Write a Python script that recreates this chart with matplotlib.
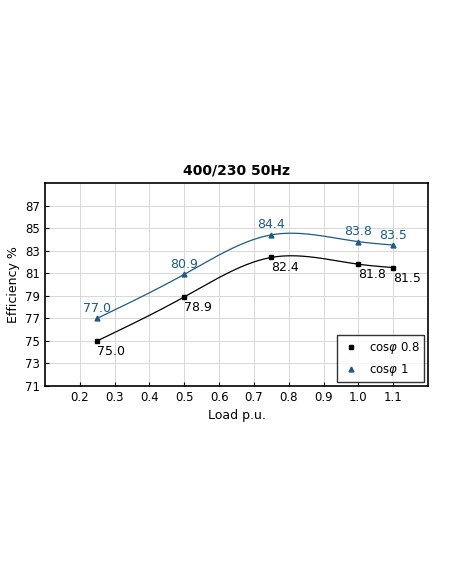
import numpy as np
import matplotlib
matplotlib.use("Agg")
import matplotlib.pyplot as plt

load = [0.25, 0.5, 0.75, 1.0, 1.1]
eff_08 = [75.0, 78.9, 82.4, 81.8, 81.5]
eff_1 = [77.0, 80.9, 84.4, 83.8, 83.5]
x_ticks = [0.2, 0.3, 0.4, 0.5, 0.6, 0.7, 0.8, 0.9, 1.0, 1.1]
y_ticks = [71, 73, 75, 77, 79, 81, 83, 85, 87]


def natural_spline(x, y, n=200):
    x = np.asarray(x, float)
    y = np.asarray(y, float)
    k = len(x)
    h = np.diff(x)
    a = np.zeros((k, k))
    b = np.zeros(k)
    a[0, 0] = a[-1, -1] = 1
    for i in range(1, k - 1):
        a[i, i - 1] = h[i - 1]
        a[i, i] = 2 * (h[i - 1] + h[i])
        a[i, i + 1] = h[i]
        b[i] = 6 * ((y[i + 1] - y[i]) / h[i] - (y[i] - y[i - 1]) / h[i - 1])
    m = np.linalg.solve(a, b)
    xs = np.linspace(x[0], x[-1], n)
    idx = np.clip(np.searchsorted(x, xs) - 1, 0, k - 2)
    t0 = x[idx + 1] - xs
    t1 = xs - x[idx]
    hi = h[idx]
    ys = (m[idx] * t0**3 + m[idx + 1] * t1**3) / (6 * hi) \
        + (y[idx] / hi - m[idx] * hi / 6) * t0 + (y[idx + 1] / hi - m[idx + 1] * hi / 6) * t1
    return xs, ys


blue = "#1f5a85"
fig = plt.figure(figsize=(4.52, 5.84), dpi=100)
ax = fig.add_axes([45 / 452, 1 - 386 / 584, 383 / 452, 203 / 584])

for vals, color, marker, label, dy, va in [
    (eff_08, "black", "s", r"cos$\varphi$ 0.8", -0.35, "top"),
    (eff_1, blue, "^", r"cos$\varphi$ 1", 0.3, "bottom"),
]:
    xs, ys = natural_spline(load, vals)
    ax.plot(xs, ys, color=color, lw=0.9)
    ax.plot(load, vals, linestyle="none", marker=marker, ms=3.5, color=color, label=label)
    for x, y in zip(load, vals):
        ax.text(x, y + dy, f"{y:.1f}", color=color, fontsize=9, ha="left" if va == "top" else "center", va=va)

ax.set_xlim(0.1, 1.2)
ax.set_ylim(71, 89)
ax.set_xticks(x_ticks)
ax.set_xticklabels([f"{t:.1f}" for t in x_ticks])
ax.set_yticks(y_ticks)
ax.tick_params(direction="in", labelsize=8.5, length=3)
ax.grid(color="#d8d8d8", lw=0.7)
for s in ax.spines.values():
    s.set_linewidth(1.2)
ax.set_xlabel("Load p.u.", fontsize=9)
ax.set_ylabel("Efficiency %", fontsize=9)
ax.set_title("400/230 50Hz", fontsize=10, fontweight="bold", pad=6)
ax.legend(loc="lower right", fontsize=8.5, frameon=True, fancybox=False, edgecolor="black",
          handlelength=1.5, borderaxespad=0.3)
fig.savefig("out.png", dpi=100)
